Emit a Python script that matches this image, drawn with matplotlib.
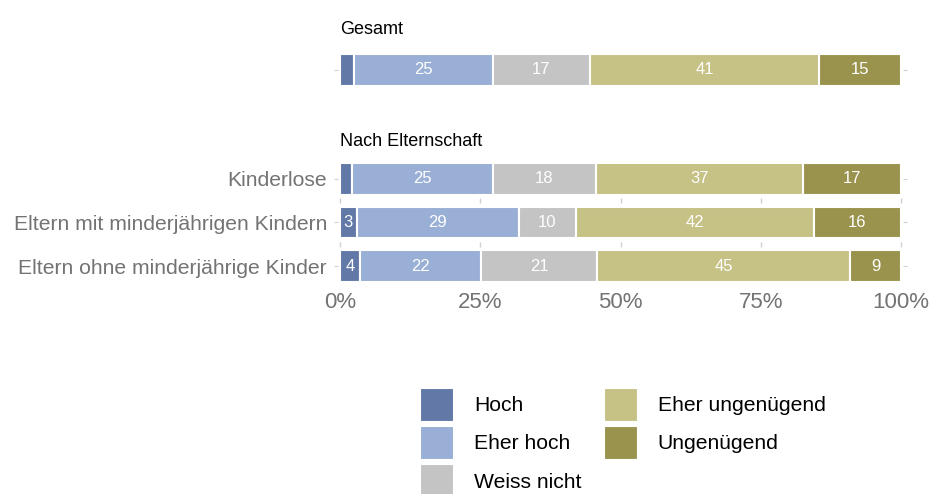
import numpy as np
import matplotlib.pyplot as plt
from matplotlib.patches import Patch

plt.rcParams['font.family'] = ['Liberation Sans', 'DejaVu Sans']

categories = ['Hoch', 'Eher hoch', 'Weiss nicht', 'Eher ungenügend', 'Ungenügend']
colors = ['#6279a8', '#9aafd6', '#c4c4c4', '#c6c184', '#9a934e']

gesamt = [2.5, 24.8, 17.2, 40.9, 14.6]

groups = ['Kinderlose', 'Eltern mit minderjährigen Kindern', 'Eltern ohne minderjährige Kinder']
kinderlose = [2.2, 25.0, 18.4, 37.0, 17.4]
eltern_mit = [3.0, 28.9, 10.1, 42.4, 15.6]
eltern_ohne = [3.6, 21.6, 20.6, 45.1, 9.1]

W, H = 930, 494
fig = plt.figure(figsize=(W / 100, H / 100), dpi=100)
grey = '#737373'


def px_axes(x0, y0, x1, y1):
    return fig.add_axes([x0 / W, 1 - y1 / H, (x1 - x0) / W, (y1 - y0) / H])


def stacked(ax, rows, labels):
    ypos = np.arange(len(rows))[::-1]
    data = np.array(rows)
    left = np.zeros(len(rows))
    for j, cat in enumerate(categories):
        vals = data[:, j]
        ax.barh(ypos, vals, left=left, height=0.73, color=colors[j],
                edgecolor='white', linewidth=1.5, zorder=2)
        for y, l, v in zip(ypos, left, vals):
            if round(v) >= 3:
                ax.text(l + v / 2, y, f'{round(v):d}', ha='center', va='center',
                        color='white', fontsize=12, zorder=3)
        left += vals
    ax.set_xlim(-0.35, 100.35)
    ax.set_ylim(-0.5, len(rows) - 0.5)
    ax.set_yticks(ypos)
    ax.set_yticklabels(labels, color=grey, fontsize=15.2)
    ax.tick_params(axis='y', length=3, color='#d0d0d0', left=True, right=True, pad=5)
    for s in ax.spines.values():
        s.set_visible(False)
    return ypos


# overall bar
ax1 = px_axes(338, 48, 903, 92)
stacked(ax1, [gesamt], [''])
ax1.set_xticks([])
fig.text(340 / W, 1 - 30 / H, 'Gesamt', fontsize=13, va='center', ha='left')

# by parenthood
ax2 = px_axes(338, 157, 903, 288)
ypos = stacked(ax2, [kinderlose, eltern_mit, eltern_ohne], groups)
fig.text(340 / W, 1 - 142 / H, 'Nach Elternschaft', fontsize=13, va='center', ha='left')
ticks = [0, 25, 50, 75, 100]
ax2.set_xticks(ticks)
ax2.set_xticklabels([f'{t}%' for t in ticks], color=grey, fontsize=16)
ax2.tick_params(axis='x', length=0, pad=3)
for g in [0.5, 1.5]:
    ax2.vlines(ticks, g - 0.06, g + 0.06, color='#d0d0d0', lw=1, zorder=1)

handles = [Patch(facecolor=c, edgecolor='white', linewidth=0.8, label=l)
           for c, l in zip(colors, categories)]
fig.legend(handles=handles, ncol=2, loc='upper left', bbox_to_anchor=(415 / W, 1 - 383 / H),
           frameon=False, fontsize=15.2, handlelength=1.55, handleheight=2.0,
           labelspacing=0.26, handletextpad=1.0, columnspacing=1.05, borderaxespad=0,
           borderpad=0.25)

fig.savefig('out.png', dpi=100)
